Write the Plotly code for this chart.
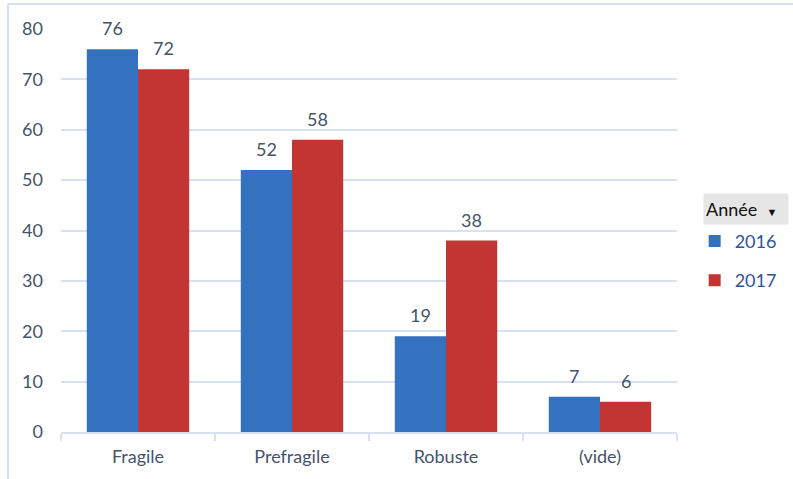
import plotly.graph_objects as go

categories = ["Fragile", "Prefragile", "Robuste", "(vide)"]
values_2016 = [76, 52, 19, 7]
values_2017 = [72, 58, 38, 6]
y_ticks = [0, 10, 20, 30, 40, 50, 60, 70, 80]

TEXT = "#44546a"
FONT = "Lato"
GRID = "#d6e1f1"

PLOT_W = 793 - 61 - 116
BARGAP = 0.335
# horizontal pixel offset of each bar centre within its category group
HALF_BAR = PLOT_W / len(categories) * (1 - BARGAP) / 4

fig = go.Figure()
fig.add_trace(go.Bar(
    name="2016", x=categories, y=values_2016,
    marker=dict(color="#3471be", line=dict(width=0)),
    legendgroup="a",
))
fig.add_trace(go.Bar(
    name="2017", x=categories, y=values_2017,
    marker=dict(color="#c33532", line=dict(width=0)),
    legendgroup="b",
))

# value labels above each bar
for vals, sign in ((values_2016, -1), (values_2017, 1)):
    for cat, v in zip(categories, vals):
        fig.add_annotation(
            x=cat, y=v, xref="x", yref="y", text=str(v), showarrow=False,
            xshift=sign * HALF_BAR, yshift=8, yanchor="bottom",
            font=dict(color=TEXT, size=18, family=FONT),
        )

fig.update_layout(
    width=793, height=479,
    margin=dict(l=61, r=116, t=29, b=47),
    paper_bgcolor="white", plot_bgcolor="white",
    barmode="group", bargap=BARGAP, bargroupgap=0,
    font=dict(family=FONT, color=TEXT, size=18),
    legend=dict(
        xref="container", yref="container",
        x=0.876, y=0.535, xanchor="left", yanchor="top",
        font=dict(size=18, color="#2f5496", family=FONT),
        tracegroupgap=13, itemwidth=30,
        bgcolor="rgba(0,0,0,0)",
    ),
    showlegend=True,
    yaxis=dict(
        range=[0, 80], tickvals=y_ticks,
        showgrid=True, gridcolor=GRID, gridwidth=1.5,
        zeroline=False, showline=False, ticks="",
        ticklabelstandoff=17,
        tickfont=dict(size=18, color=TEXT),
    ),
    xaxis=dict(
        showline=True, linecolor=GRID, linewidth=1.5,
        ticks="outside", tickson="boundaries", ticklen=7,
        tickcolor=GRID, tickwidth=1.5, ticklabelstandoff=8,
        tickfont=dict(size=18, color=TEXT),
    ),
)

# legend header box
fig.add_annotation(
    xref="paper", yref="paper", x=1.0 + (703 - 677) / 616, y=(432 - 193) / 403,
    xanchor="left", yanchor="top",
    text="Année  <span style='font-size:11px'>▼</span>", showarrow=False,
    font=dict(size=18, color="#111111", family=FONT),
    bgcolor="#e6e6e6", width=80, height=26, align="left", borderpad=2,
)

# outer chart frame (top and left edges)
fig.add_shape(type="line", xref="paper", yref="paper",
              x0=(8 - 61) / 616, x1=(793 - 61) / 616,
              y0=(432 - 4) / 403, y1=(432 - 4) / 403,
              line=dict(color=GRID, width=2))
fig.add_shape(type="line", xref="paper", yref="paper",
              x0=(8 - 61) / 616, x1=(8 - 61) / 616,
              y0=(432 - 4) / 403, y1=(432 - 479) / 403,
              line=dict(color=GRID, width=2))

fig.write_html("out.html")
